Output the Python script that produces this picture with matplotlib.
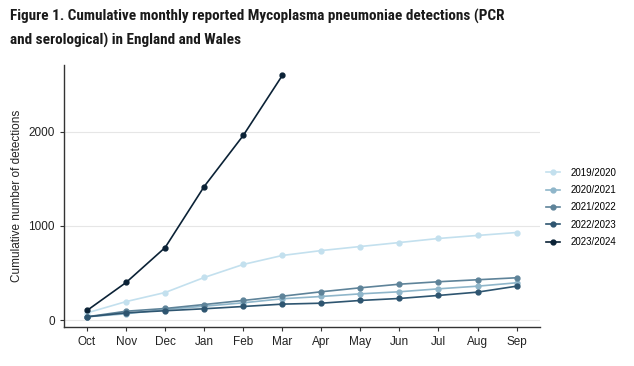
import matplotlib
matplotlib.use("Agg")
import matplotlib.pyplot as plt

plt.rcParams["font.family"] = ["Liberation Sans", "DejaVu Sans"]

months = ["Oct", "Nov", "Dec", "Jan", "Feb", "Mar", "Apr", "May", "Jun", "Jul", "Aug", "Sep"]
s2019 = [80, 200, 296, 455, 593, 688, 740, 783, 825, 868, 900, 931]
s2020 = [39, 71, 116, 151, 187, 230, 254, 282, 304, 335, 363, 399]
s2021 = [39, 98, 127, 169, 212, 257, 304, 346, 384, 410, 431, 452]
s2022 = [39, 81, 103, 124, 148, 173, 183, 212, 233, 265, 300, 363]
s2023 = [106, 402, 772, 1418, 1958, 2593]
series_labels = ["2019/2020", "2020/2021", "2021/2022", "2022/2023", "2023/2024"]
colors = ["#c3e0ee", "#8fb6ca", "#5e8399", "#2e5570", "#0b2236"]
yticks = [0, 1000, 2000]

fig = plt.figure(figsize=(6.34, 3.66), dpi=100)
ax = fig.add_axes([64/634, 39/366, (540-64)/634, (327-65)/366])

data = [s2019, s2020, s2021, s2022, s2023]
for vals, lab, c in zip(data, series_labels, colors):
    ax.plot(range(len(vals)), vals, color=c, lw=1.2, marker="o", ms=3.5, label=lab)

ax.set_xlim(-0.59, 11.6)
ax.set_ylim(-69, 2704)
ax.set_xticks(range(len(months)))
ax.set_xticklabels(months)
ax.set_yticks(yticks)
ax.set_yticklabels([str(v) for v in yticks])
ax.yaxis.grid(True, color="#e6e6e6", lw=0.8)
ax.set_axisbelow(True)
for s in ["top", "right"]:
    ax.spines[s].set_visible(False)
for s in ["left", "bottom"]:
    ax.spines[s].set_color("#333333")
    ax.spines[s].set_linewidth(1.0)
ax.tick_params(axis="both", labelsize=8.5, colors="#333333", length=3, labelcolor="#222222")
ax.set_ylabel("Cumulative number of detections", fontsize=8.5, color="#222222", labelpad=4)

leg = fig.legend(loc="upper left", bbox_to_anchor=(542/634, 1 - 164/366), frameon=False, fontsize=7,
                 handlelength=1.5, handletextpad=1.0, labelspacing=0.75, borderaxespad=0)

fig.text(10/634, 1 - 9/366,
         "Figure 1. Cumulative monthly reported Mycoplasma pneumoniae detections (PCR\nand serological) in England and Wales",
         ha="left", va="top", fontsize=11.0, fontweight="bold", color="#1a1a1a", linespacing=1.75,
         family=["Roboto Condensed", "Liberation Sans"])

fig.savefig("out.png", dpi=100, facecolor="white")
